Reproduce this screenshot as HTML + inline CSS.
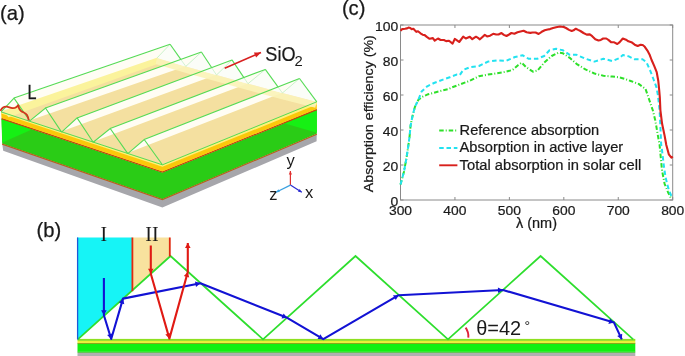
<!DOCTYPE html>
<html><head><meta charset="utf-8"><style>
html,body{margin:0;padding:0;background:#fff;}
body{width:685px;height:356px;overflow:hidden;font-family:"Liberation Sans",sans-serif;}
svg{display:block;will-change:transform;}
</style></head><body>
<svg width="685" height="356" viewBox="0 0 685 356">
<rect width="685" height="356" fill="#ffffff"/>
<g id="a">
<polygon points="2.2,143.7 162.4,199.2 316.8,133.8 316.6,141.3 162.4,207.4 3.2,150.8" fill="#a6a6ab"/>
<polygon points="1.5,119.0 162.4,172.4 316.8,110.0 316.8,133.8 162.4,199.2 2.2,143.7" fill="#2acc16"/>
<polygon points="1.6,118.8 32.4,129.2 2.4,142.4" fill="#16f014"/>
<polygon points="316.8,109.5 283.2,123.0 316.8,132.8" fill="#16f014"/>
<polyline points="2.2,144.1 162.4,199.6 316.8,134.2" fill="none" stroke="#b8601c" stroke-width="1.2"/>
<polyline points="1.5,118.5 162.4,171.9 316.8,109.5" fill="none" stroke="#c0440e" stroke-width="1.4"/>
<polygon points="1.1,112.0 162.4,165.0 316.8,101.8 316.8,109.0 162.4,171.4 1.5,118.0" fill="#fbc80a"/>
<polygon points="1.1,112.0 162.4,165.0 316.8,101.8 316.8,104.6 162.4,166.8 1.2,113.6" fill="#fdf27a"/>
<polygon points="1.1,111.9 162.4,164.8 316.8,101.8 157.1,57.9" fill="#f4e0a0"/>
<polygon points="3.0,109.8 8.5,117.3 159.5,63.3 159.0,55.8" fill="#fbf39c"/>
<polygon points="2.0,110.9 14.0,98.1 170.1,44.2 157.5,57.5" fill="#fffdf4"/>
<polygon points="30.9,120.0 45.5,108.0 201.4,52.0 186.3,66.0" fill="#fffdf4"/>
<polygon points="62.7,131.1 77.1,117.9 232.0,59.9 217.0,74.5" fill="#fffdf4"/>
<polygon points="94.4,141.2 110.2,128.5 265.3,69.4 248.5,83.3" fill="#fffdf4"/>
<polygon points="128.9,152.6 144.2,139.5 299.5,78.5 282.9,92.6" fill="#fffdf4"/>
<polygon points="157.1,57.9 185.8,66.4 216.5,75.0 248.0,83.7 282.4,93.0 316.8,101.8 315.3,107.8 280.9,99.0 246.5,89.7 215.0,81.0 184.3,72.4 155.6,63.9" fill="#fbf3b8" opacity="0.9"/>
<polygon points="157.1,57.9 170.1,44.2 185.8,66.4" fill="#fbfdf8"/>
<polygon points="185.8,66.4 201.4,52.0 216.5,75.0" fill="#fbfdf8"/>
<polygon points="216.5,75.0 232.0,59.9 248.0,83.7" fill="#fbfdf8"/>
<polygon points="248.0,83.7 265.3,69.4 282.4,93.0" fill="#fbfdf8"/>
<polygon points="282.4,93.0 299.5,78.5 316.8,101.8" fill="#fbfdf8"/>
<line x1="170.1" y1="44.2" x2="157.1" y2="57.9" stroke="#bfefc0" stroke-width="0.8"/>
<line x1="201.4" y1="52" x2="185.8" y2="66.4" stroke="#bfefc0" stroke-width="0.8"/>
<line x1="232.0" y1="59.9" x2="216.5" y2="75" stroke="#bfefc0" stroke-width="0.8"/>
<line x1="265.3" y1="69.4" x2="248" y2="83.7" stroke="#bfefc0" stroke-width="0.8"/>
<line x1="299.5" y1="78.5" x2="282.4" y2="93" stroke="#bfefc0" stroke-width="0.8"/>
<polyline points="1.1,111.9 14.0,98.1 29.8,120.9" fill="none" stroke="#55db55" stroke-width="1.1"/>
<line x1="14" y1="98.1" x2="170.1" y2="44.2" stroke="#55db55" stroke-width="1.1"/>
<line x1="170.1" y1="44.2" x2="180.8" y2="59.4" stroke="#55db55" stroke-width="1.1"/>
<line x1="180.8" y1="59.4" x2="185.8" y2="66.4" stroke="#c8f0c8" stroke-width="0.8"/>
<polyline points="29.8,120.9 45.5,108.0 61.6,132.1" fill="none" stroke="#55db55" stroke-width="1.1"/>
<line x1="45.5" y1="108" x2="201.4" y2="52" stroke="#55db55" stroke-width="1.1"/>
<line x1="201.4" y1="52" x2="211.6" y2="67.5" stroke="#55db55" stroke-width="1.1"/>
<line x1="211.6" y1="67.5" x2="216.5" y2="75" stroke="#c8f0c8" stroke-width="0.8"/>
<polyline points="61.6,132.1 77.1,117.9 93.2,142.2" fill="none" stroke="#55db55" stroke-width="1.1"/>
<line x1="77.1" y1="117.9" x2="232.0" y2="59.9" stroke="#55db55" stroke-width="1.1"/>
<line x1="232.0" y1="59.9" x2="243.9" y2="77.6" stroke="#55db55" stroke-width="1.1"/>
<line x1="243.9" y1="77.6" x2="248" y2="83.7" stroke="#c8f0c8" stroke-width="0.8"/>
<polyline points="93.2,142.2 110.2,128.5 127.8,153.6" fill="none" stroke="#55db55" stroke-width="1.1"/>
<line x1="110.2" y1="128.5" x2="265.3" y2="69.4" stroke="#55db55" stroke-width="1.1"/>
<line x1="265.3" y1="69.4" x2="278.0" y2="86.9" stroke="#55db55" stroke-width="1.1"/>
<line x1="278.0" y1="86.9" x2="282.4" y2="93" stroke="#c8f0c8" stroke-width="0.8"/>
<polyline points="127.8,153.6 144.2,139.5 162.4,164.8" fill="none" stroke="#55db55" stroke-width="1.1"/>
<line x1="144.2" y1="139.5" x2="299.5" y2="78.5" stroke="#55db55" stroke-width="1.1"/>
<line x1="299.5" y1="78.5" x2="316.8" y2="101.8" stroke="#55db55" stroke-width="1.1"/>
<polyline points="1.1,111.9 162.4,164.8 316.8,101.8" fill="none" stroke="#55db55" stroke-width="1"/>
<path d="M0.4,111 C1.5,108.6 3.5,106.8 6,106.7 C8.5,106.6 10,108 12.5,108.1 C15,108.2 17.3,107 18.1,104.7 C18.4,107 19,109.5 21,111 C23,112.5 25.5,112.6 27,115 C28.2,117 28.5,119 28.7,120.3" fill="none" stroke="#d2341c" stroke-width="1.8"/>
</g>
<g id="b">
<polygon points="77.0,237.5 132.4,237.5 132.4,290.2 77.8,339.3" fill="#16f4f6"/>
<polygon points="132.4,237.5 169.8,237.5 169.8,256.6 132.4,290.2" fill="#f8e29e"/>
<rect x="77.5" y="352.6" width="557.8" height="4" fill="#b0b0b0"/>
<rect x="77.5" y="351.6" width="557.8" height="1.2" fill="#44c030"/>
<rect x="77.5" y="343.6" width="557.8" height="8.2" fill="#12f012"/>
<rect x="77.5" y="342.8" width="557.8" height="1.2" fill="#8aa818"/>
<rect x="77.5" y="340.8" width="557.8" height="2.1" fill="#eaf032"/>
<rect x="77.5" y="338.9" width="557.8" height="2.0" fill="#8ee020"/>
<polyline points="77.8,339.3 170.5,256.0 263.0,339.3 355.5,256.0 448.0,339.3 540.6,256.0 633.2,339.3" fill="none" stroke="#2ede2e" stroke-width="1.7" stroke-linejoin="miter"/>
<line x1="77.6" y1="237.5" x2="77.6" y2="339.5" stroke="#2058d8" stroke-width="1.3"/>
<line x1="132.4" y1="237.5" x2="132.4" y2="291.236569579288" stroke="#e02a10" stroke-width="1.8"/>
<line x1="169.8" y1="237.5" x2="169.8" y2="256.5" stroke="#e02a10" stroke-width="1.8"/>
<polyline points="103.9,277.9 103.9,315.2 111.2,339.0 123.0,298.6 200.4,283.3 287.2,317.8 323.3,339.2 398.7,295.2 503.0,290.0 614.0,322.6 621.8,339.4" fill="none" stroke="#1212d4" stroke-width="2.1" stroke-linejoin="round"/>
<polygon points="103.9,315.2 101.1,310.2 106.7,310.2" fill="#1212d4"/>
<polygon points="111.2,339.0 107.1,335.0 112.4,333.4" fill="#1212d4"/>
<polygon points="123.0,298.6 124.3,304.2 118.9,302.6" fill="#1212d4"/>
<polygon points="200.4,283.3 196.0,287.0 195.0,281.5" fill="#1212d4"/>
<polygon points="287.2,317.8 281.5,318.6 283.6,313.4" fill="#1212d4"/>
<polygon points="323.3,339.2 317.6,339.1 320.4,334.2" fill="#1212d4"/>
<polygon points="398.7,295.2 395.8,300.1 393.0,295.3" fill="#1212d4"/>
<polygon points="503.0,290.0 498.1,293.0 497.9,287.5" fill="#1212d4"/>
<polygon points="614.0,322.6 608.4,323.9 610.0,318.5" fill="#1212d4"/>
<polygon points="621.8,339.4 617.2,336.0 622.2,333.7" fill="#1212d4"/>
<polyline points="150.8,245.5 150.8,273.8 169.4,338.6 187.8,272.0 187.8,243.0" fill="none" stroke="#e01a14" stroke-width="2.1" stroke-linejoin="round"/>
<polygon points="150.8,273.8 148.0,268.8 153.6,268.8" fill="#e01a14"/>
<polygon points="169.4,338.6 165.3,334.6 170.7,333.0" fill="#e01a14"/>
<polygon points="187.8,272.0 189.2,277.6 183.8,276.1" fill="#e01a14"/>
<polygon points="187.8,243.0 190.6,248.0 185.0,248.0" fill="#e01a14"/>
<path d="M465.6,327.6 Q468.8,332 468.3,337.6" fill="none" stroke="#e0203a" stroke-width="1.9"/>
</g>
<g id="c">
<rect x="400.5" y="25.0" width="272.20000000000005" height="175.0" fill="none" stroke="#8a8a8a" stroke-width="1"/>
<line x1="400.5" y1="200.0" x2="403.5" y2="200.0" stroke="#8a8a8a" stroke-width="1"/>
<line x1="672.7" y1="200.0" x2="669.7" y2="200.0" stroke="#8a8a8a" stroke-width="1"/>
<line x1="400.5" y1="165.0" x2="403.5" y2="165.0" stroke="#8a8a8a" stroke-width="1"/>
<line x1="672.7" y1="165.0" x2="669.7" y2="165.0" stroke="#8a8a8a" stroke-width="1"/>
<line x1="400.5" y1="130.0" x2="403.5" y2="130.0" stroke="#8a8a8a" stroke-width="1"/>
<line x1="672.7" y1="130.0" x2="669.7" y2="130.0" stroke="#8a8a8a" stroke-width="1"/>
<line x1="400.5" y1="95.0" x2="403.5" y2="95.0" stroke="#8a8a8a" stroke-width="1"/>
<line x1="672.7" y1="95.0" x2="669.7" y2="95.0" stroke="#8a8a8a" stroke-width="1"/>
<line x1="400.5" y1="60.0" x2="403.5" y2="60.0" stroke="#8a8a8a" stroke-width="1"/>
<line x1="672.7" y1="60.0" x2="669.7" y2="60.0" stroke="#8a8a8a" stroke-width="1"/>
<line x1="400.5" y1="25.0" x2="403.5" y2="25.0" stroke="#8a8a8a" stroke-width="1"/>
<line x1="672.7" y1="25.0" x2="669.7" y2="25.0" stroke="#8a8a8a" stroke-width="1"/>
<line x1="400.5" y1="200.0" x2="400.5" y2="197.0" stroke="#8a8a8a" stroke-width="1"/>
<line x1="400.5" y1="25.0" x2="400.5" y2="28.0" stroke="#8a8a8a" stroke-width="1"/>
<line x1="454.94" y1="200.0" x2="454.94" y2="197.0" stroke="#8a8a8a" stroke-width="1"/>
<line x1="454.94" y1="25.0" x2="454.94" y2="28.0" stroke="#8a8a8a" stroke-width="1"/>
<line x1="509.38" y1="200.0" x2="509.38" y2="197.0" stroke="#8a8a8a" stroke-width="1"/>
<line x1="509.38" y1="25.0" x2="509.38" y2="28.0" stroke="#8a8a8a" stroke-width="1"/>
<line x1="563.82" y1="200.0" x2="563.82" y2="197.0" stroke="#8a8a8a" stroke-width="1"/>
<line x1="563.82" y1="25.0" x2="563.82" y2="28.0" stroke="#8a8a8a" stroke-width="1"/>
<line x1="618.26" y1="200.0" x2="618.26" y2="197.0" stroke="#8a8a8a" stroke-width="1"/>
<line x1="618.26" y1="25.0" x2="618.26" y2="28.0" stroke="#8a8a8a" stroke-width="1"/>
<line x1="672.7" y1="200.0" x2="672.7" y2="197.0" stroke="#8a8a8a" stroke-width="1"/>
<line x1="672.7" y1="25.0" x2="672.7" y2="28.0" stroke="#8a8a8a" stroke-width="1"/>
<polyline points="400.5,184.6 403.9,172.0 406.4,158.5 408.1,147.3 409.5,137.2 410.6,125.4 412.3,117.0 414.9,106.9 418.2,100.1 421.6,97.2 428.3,94.2 438.5,91.5 448.6,89.0 452.0,87.4 461.0,84.0 470.0,80.7 479.0,76.2 488.0,74.6 497.0,73.3 506.0,71.7 512.7,69.9 518.3,65.0 521.7,62.7 526.2,67.2 533.0,71.7 537.4,70.6 544.2,62.7 551.7,56.0 558.5,52.6 563.0,53.3 569.7,57.8 576.5,63.8 585.4,69.4 594.4,73.5 603.4,75.7 612.4,76.6 619.2,77.3 625.0,79.0 630.7,81.0 638.6,83.9 645.5,88.8 649.4,100.2 652.8,110.3 655.3,120.4 657.9,135.6 659.6,145.0 660.4,153.5 662.0,170.3 664.6,183.8 668.0,192.2 671.4,199.0" fill="none" stroke="#2ee02a" stroke-width="2" stroke-dasharray="4.5 2 1 2" stroke-linejoin="round"/>
<polyline points="400.5,184.6 403.9,172.0 406.4,158.5 408.1,147.3 409.5,137.2 410.6,125.4 412.3,117.0 414.9,106.9 418.2,100.1 421.6,91.5 427.2,86.3 434.0,83.0 443.0,79.6 449.7,77.3 456.4,74.6 459.8,75.0 463.2,69.9 470.0,67.2 479.0,66.0 488.0,61.6 497.0,60.4 506.0,60.9 515.0,57.0 522.8,55.3 528.4,58.7 537.4,58.7 544.2,56.0 549.5,50.3 556.2,48.8 563.0,50.3 569.7,54.8 576.5,54.8 585.4,58.7 594.4,61.6 603.4,58.7 612.4,61.1 619.0,58.3 622.9,55.0 628.8,56.4 634.7,59.3 642.5,59.3 646.5,62.3 650.4,71.1 653.4,79.0 656.3,86.8 657.9,95.0 659.6,110.3 660.4,127.1 661.2,145.0 662.0,150.0 663.8,165.3 665.5,177.0 668.0,187.2 670.5,194.0 672.2,198.1" fill="none" stroke="#22e2f0" stroke-width="2" stroke-dasharray="4.5 2.8" stroke-linejoin="round"/>
<polyline points="400.5,30.8 400.8,30.5 402.2,29.1 405.0,28.8 407.1,28.4 408.5,27.6 410.3,28.1 411.7,29.1 413.4,28.8 416.3,31.9 418.0,31.2 420.5,33.3 422.6,34.7 424.7,35.1 426.8,36.9 429.6,38.8 432.9,38.1 434.7,40.7 438.0,38.5 440.6,40.0 443.9,40.0 446.1,41.1 449.0,40.7 452.6,43.6 454.8,38.9 457.0,40.3 459.2,42.0 463.2,36.7 465.8,38.5 469.8,36.7 472.3,39.2 476.0,36.7 478.0,37.9 479.9,39.3 482.2,37.2 484.8,34.9 487.1,36.4 490.1,35.7 493.2,33.8 496.2,34.5 498.5,34.5 501.5,33.0 503.8,34.9 506.5,36.0 509.1,34.5 511.4,33.0 514.4,33.8 517.5,32.3 520.5,31.5 523.6,30.7 526.6,32.3 530.3,32.9 532.6,32.5 535.6,32.5 538.6,34.0 541.7,31.8 544.7,30.3 547.7,29.5 550.0,29.1 553.1,28.0 556.1,27.2 559.9,26.5 563.7,27.0 566.0,28.0 569.0,29.9 571.7,31.0 573.6,30.3 575.8,28.7 578.1,29.9 580.4,31.0 583.5,33.0 586.7,34.6 589.8,34.4 592.2,36.2 595.3,39.3 598.5,40.5 600.8,39.9 603.2,38.5 606.3,38.5 608.7,40.1 611.0,42.1 614.2,42.3 617.3,44.0 619.7,42.1 622.8,38.5 626.0,39.7 628.4,41.3 631.4,42.2 634.7,44.7 637.7,46.0 640.6,44.7 642.7,45.0 644.8,46.8 647.4,50.6 649.5,54.4 651.6,60.0 654.3,66.2 656.7,72.1 658.3,81.0 659.2,90.0 659.8,97.0 660.4,110.3 662.1,123.8 664.6,135.6 666.3,145.0 668.8,154.3 671.4,157.7 672.7,156.5" fill="none" stroke="#d8201c" stroke-width="2.1" stroke-linejoin="round"/>
<line x1="439.2" y1="130.5" x2="457.4" y2="130.5" stroke="#2ee02a" stroke-width="2" stroke-dasharray="4.5 2 1 2"/>
<line x1="439.2" y1="147.9" x2="457.4" y2="147.9" stroke="#22e2f0" stroke-width="2" stroke-dasharray="4.5 2.8"/>
<line x1="439.2" y1="165.3" x2="457.4" y2="165.3" stroke="#d8201c" stroke-width="1.9"/>
</g>
<g id="t">
<text x="0.0" y="19.9" font-size="20.2" text-anchor="start" fill="#1a1a1a" style="font-family:'Liberation Sans',sans-serif" stroke="#1a1a1a" stroke-width="0.25">(a)</text>
<text x="36.6" y="236.9" font-size="20.2" text-anchor="start" fill="#1a1a1a" style="font-family:'Liberation Sans',sans-serif" stroke="#1a1a1a" stroke-width="0.25">(b)</text>
<text x="341.9" y="15.3" font-size="20.2" text-anchor="start" fill="#1a1a1a" style="font-family:'Liberation Sans',sans-serif" stroke="#1a1a1a" stroke-width="0.25">(c)</text>
<text x="27.6" y="99.3" font-size="19.5" text-anchor="start" fill="#1a1a1a" style="font-family:'Liberation Sans',sans-serif" textLength="9.0" lengthAdjust="spacingAndGlyphs" stroke="#1a1a1a" stroke-width="0.3">L</text>
<text x="265.3" y="60.8" font-size="20" text-anchor="start" fill="#1a1a1a" style="font-family:'Liberation Sans',sans-serif" textLength="30.2" lengthAdjust="spacingAndGlyphs" stroke="#1a1a1a" stroke-width="0.2">SiO</text>
<text x="294.6" y="65.9" font-size="14.8" text-anchor="start" fill="#1a1a1a" style="font-family:'Liberation Sans',sans-serif">2</text>
<text x="286.4" y="165.5" font-size="16.5" text-anchor="start" fill="#1a1a1a" style="font-family:'Liberation Sans',sans-serif">y</text>
<text x="269.3" y="200.0" font-size="16.5" text-anchor="start" fill="#1a1a1a" style="font-family:'Liberation Sans',sans-serif">z</text>
<text x="305.0" y="198.4" font-size="16.5" text-anchor="start" fill="#1a1a1a" style="font-family:'Liberation Sans',sans-serif">x</text>
<text x="100.6" y="240.7" font-size="22" text-anchor="start" fill="#1a1a1a" style="font-family:'Liberation Serif',serif" textLength="6.6" lengthAdjust="spacingAndGlyphs">I</text>
<text x="145.2" y="241.0" font-size="22" text-anchor="start" fill="#1a1a1a" style="font-family:'Liberation Serif',serif" textLength="13.4" lengthAdjust="spacingAndGlyphs">II</text>
<text x="476.2" y="335.1" font-size="19.5" text-anchor="start" fill="#1a1a1a" style="font-family:'Liberation Sans',sans-serif" textLength="45" lengthAdjust="spacingAndGlyphs">θ=42</text>
<text x="524.5" y="330.5" font-size="14" text-anchor="start" fill="#1a1a1a" style="font-family:'Liberation Sans',sans-serif">°</text>
<text x="398.3" y="205.6" font-size="13.6" text-anchor="end" fill="#1a1a1a" style="font-family:'Liberation Sans',sans-serif" textLength="7.75" lengthAdjust="spacingAndGlyphs" stroke="#1a1a1a" stroke-width="0.22">0</text>
<text x="398.3" y="170.6" font-size="13.6" text-anchor="end" fill="#1a1a1a" style="font-family:'Liberation Sans',sans-serif" textLength="15.5" lengthAdjust="spacingAndGlyphs" stroke="#1a1a1a" stroke-width="0.22">20</text>
<text x="398.3" y="135.6" font-size="13.6" text-anchor="end" fill="#1a1a1a" style="font-family:'Liberation Sans',sans-serif" textLength="15.5" lengthAdjust="spacingAndGlyphs" stroke="#1a1a1a" stroke-width="0.22">40</text>
<text x="398.3" y="100.60000000000001" font-size="13.6" text-anchor="end" fill="#1a1a1a" style="font-family:'Liberation Sans',sans-serif" textLength="15.5" lengthAdjust="spacingAndGlyphs" stroke="#1a1a1a" stroke-width="0.22">60</text>
<text x="398.3" y="65.60000000000001" font-size="13.6" text-anchor="end" fill="#1a1a1a" style="font-family:'Liberation Sans',sans-serif" textLength="15.5" lengthAdjust="spacingAndGlyphs" stroke="#1a1a1a" stroke-width="0.22">80</text>
<text x="398.3" y="30.599999999999998" font-size="13.6" text-anchor="end" fill="#1a1a1a" style="font-family:'Liberation Sans',sans-serif" textLength="23.25" lengthAdjust="spacingAndGlyphs" stroke="#1a1a1a" stroke-width="0.22">100</text>
<text x="400.5" y="214.8" font-size="13.4" text-anchor="middle" fill="#1a1a1a" style="font-family:'Liberation Sans',sans-serif" textLength="23.1" lengthAdjust="spacingAndGlyphs" stroke="#1a1a1a" stroke-width="0.22">300</text>
<text x="454.94" y="214.8" font-size="13.4" text-anchor="middle" fill="#1a1a1a" style="font-family:'Liberation Sans',sans-serif" textLength="23.1" lengthAdjust="spacingAndGlyphs" stroke="#1a1a1a" stroke-width="0.22">400</text>
<text x="509.38" y="214.8" font-size="13.4" text-anchor="middle" fill="#1a1a1a" style="font-family:'Liberation Sans',sans-serif" textLength="23.1" lengthAdjust="spacingAndGlyphs" stroke="#1a1a1a" stroke-width="0.22">500</text>
<text x="563.82" y="214.8" font-size="13.4" text-anchor="middle" fill="#1a1a1a" style="font-family:'Liberation Sans',sans-serif" textLength="23.1" lengthAdjust="spacingAndGlyphs" stroke="#1a1a1a" stroke-width="0.22">600</text>
<text x="618.26" y="214.8" font-size="13.4" text-anchor="middle" fill="#1a1a1a" style="font-family:'Liberation Sans',sans-serif" textLength="23.1" lengthAdjust="spacingAndGlyphs" stroke="#1a1a1a" stroke-width="0.22">700</text>
<text x="672.7" y="214.8" font-size="13.4" text-anchor="middle" fill="#1a1a1a" style="font-family:'Liberation Sans',sans-serif" textLength="23.1" lengthAdjust="spacingAndGlyphs" stroke="#1a1a1a" stroke-width="0.22">800</text>
<text x="536.5" y="228.2" font-size="13.8" text-anchor="middle" fill="#1a1a1a" style="font-family:'Liberation Sans',sans-serif" textLength="41" lengthAdjust="spacingAndGlyphs" stroke="#1a1a1a" stroke-width="0.22">λ (nm)</text>
<text transform="translate(373.3,192.2) rotate(-90)" x="0" y="0" font-size="13.4" style="font-family:'Liberation Sans',sans-serif" fill="#1a1a1a" stroke="#1a1a1a" stroke-width="0.22" textLength="157" lengthAdjust="spacingAndGlyphs">Absorption efficiency (%)</text>
<text x="459.6" y="134.7" font-size="14" text-anchor="start" fill="#1a1a1a" style="font-family:'Liberation Sans',sans-serif" textLength="139.6" lengthAdjust="spacingAndGlyphs" stroke="#1a1a1a" stroke-width="0.22">Reference absorption</text>
<text x="459.6" y="152.1" font-size="14" text-anchor="start" fill="#1a1a1a" style="font-family:'Liberation Sans',sans-serif" textLength="163.6" lengthAdjust="spacingAndGlyphs" stroke="#1a1a1a" stroke-width="0.22">Absorption in active layer</text>
<text x="459.6" y="169.5" font-size="14" text-anchor="start" fill="#1a1a1a" style="font-family:'Liberation Sans',sans-serif" textLength="181.6" lengthAdjust="spacingAndGlyphs" stroke="#1a1a1a" stroke-width="0.22">Total absorption in solar cell</text>
<line x1="290.4" y1="185.1" x2="290.4" y2="171.1" stroke="#e03030" stroke-width="1.2"/><polygon points="290.4,171.1 292.0,174.6 288.8,174.6" fill="#e03030"/>
<line x1="290.4" y1="185.1" x2="301.8" y2="192.2" stroke="#2a2ad0" stroke-width="1.2"/><polygon points="301.8,192.2 298.0,191.7 299.7,189.0" fill="#2a2ad0"/>
<line x1="290.4" y1="185.1" x2="276.0" y2="192.2" stroke="#3aa0e0" stroke-width="1.2"/><polygon points="276.0,192.2 278.4,189.2 279.8,192.1" fill="#3aa0e0"/>
<line x1="224.7" y1="68.3" x2="261.0" y2="52.4" stroke="#d82020" stroke-width="1.6"/><polygon points="261.0,52.4 256.1,57.5 253.9,52.5" fill="#d82020"/>
</g>
</svg>
</body></html>
